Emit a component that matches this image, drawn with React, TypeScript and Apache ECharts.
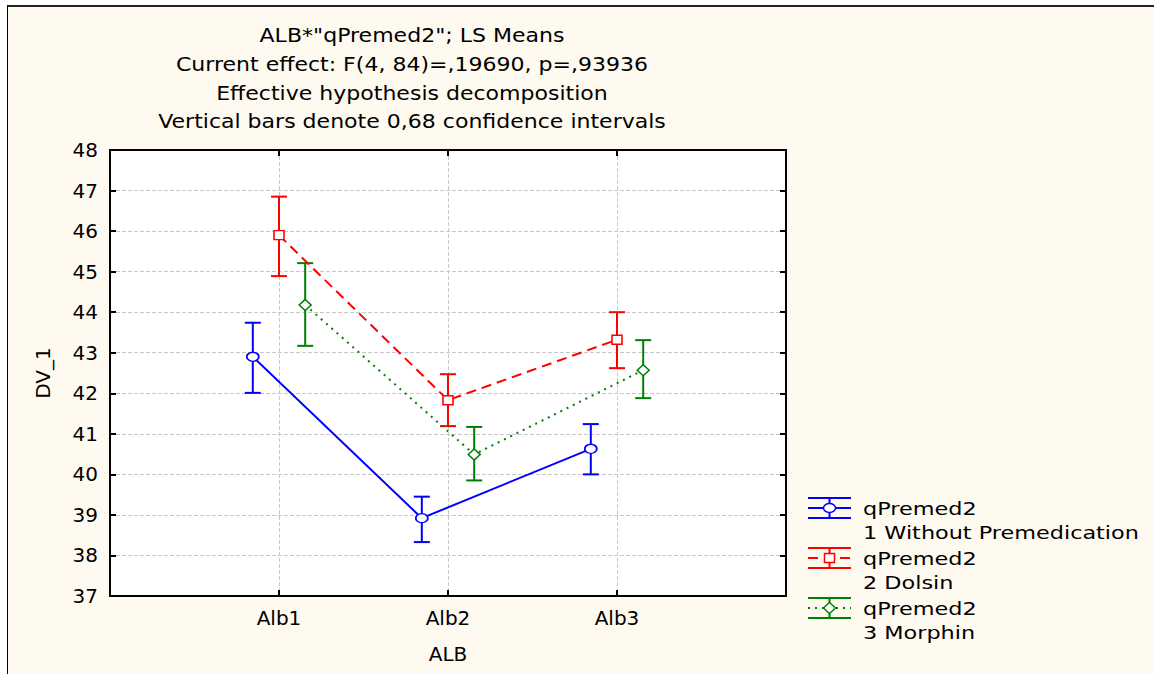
import React, { useEffect, useRef } from 'react';
import * as echarts from 'echarts';

// ---- data ----
const categories = ['Alb1', 'Alb2', 'Alb3'];
const factorName = 'qPremed2';
const groupNames = ['1 Without Premedication', '2 Dolsin', '3 Morphin'];
const titleLines = [
  'ALB*"qPremed2"; LS Means',
  'Current effect: F(4, 84)=,19690, p=,93936',
  'Effective hypothesis decomposition',
  'Vertical bars denote 0,68 confidence intervals',
];
const xAxisName = 'ALB';
const yAxisName = 'DV_1';
const yMin = 37;
const yMax = 48;
const yStep = 1;

const withoutMeans = [42.9, 38.92, 40.63];
const withoutLow = [42.01, 38.33, 40.0];
const withoutHigh = [43.74, 39.45, 41.24];

const dolsinMeans = [45.9, 41.83, 43.32];
const dolsinLow = [44.89, 41.19, 42.62];
const dolsinHigh = [46.85, 42.47, 44.0];

const morphinMeans = [44.18, 40.49, 42.57];
const morphinLow = [43.17, 39.85, 41.88];
const morphinHigh = [45.21, 41.17, 43.31];

// dodge offsets (in category units) for each group
const groupOffsets = [-0.155, 0, 0.155];

// ---- styles ----
const FONT = '"DejaVu Sans", "Liberation Sans", Arial, sans-serif';
const groupStyles = [
  { color: '#0000ff', symbol: 'circle', size: [12, 9], dash: 'solid' as any },
  { color: '#ff0000', symbol: 'rect', size: [10, 9], dash: [10, 6] as any },
  { color: '#008000', symbol: 'diamond', size: [12, 11], dash: [2, 5] as any },
];

function measure(text: string, font: string): number {
  const ctx = document.createElement('canvas').getContext('2d');
  if (!ctx) return text.length * 10;
  ctx.font = font;
  return ctx.measureText(text).width;
}

export default function App() {
  const ref = useRef<HTMLDivElement>(null);

  useEffect(() => {
    if (!ref.current) return;
    const chart = echarts.init(ref.current, undefined, { renderer: 'svg' });

    const groups = [
      { means: withoutMeans, low: withoutLow, high: withoutHigh },
      { means: dolsinMeans, low: dolsinLow, high: dolsinHigh },
      { means: morphinMeans, low: morphinLow, high: morphinHigh },
    ];

    const series: any[] = [];
    groups.forEach((g, gi) => {
      const st = groupStyles[gi];
      const off = groupOffsets[gi];
      series.push({
        type: 'custom',
        name: groupNames[gi] + ' CI',
        xAxisIndex: 0,
        yAxisIndex: 0,
        z: 2,
        encode: { x: 0, y: [1, 2] },
        data: g.means.map((_, i) => [i + 1 + off, g.low[i], g.high[i]]),
        renderItem: (params: any, api: any) => {
          const x = api.value(0);
          const lo = api.value(1);
          const hi = api.value(2);
          const top = api.coord([x, hi]);
          const bot = api.coord([x, lo]);
          const hw = 8;
          const s = { stroke: st.color, lineWidth: 2 };
          return {
            type: 'group',
            children: [
              { type: 'line', shape: { x1: top[0], y1: top[1], x2: bot[0], y2: bot[1] }, style: s },
              { type: 'line', shape: { x1: top[0] - hw, y1: top[1], x2: top[0] + hw, y2: top[1] }, style: s },
              { type: 'line', shape: { x1: bot[0] - hw, y1: bot[1], x2: bot[0] + hw, y2: bot[1] }, style: s },
            ],
          };
        },
      });
      series.push({
        type: 'line',
        name: groupNames[gi],
        xAxisIndex: 0,
        yAxisIndex: 0,
        z: 3,
        data: g.means.map((m, i) => [i + 1 + off, m]),
        symbol: st.symbol,
        symbolSize: st.size,
        showAllSymbol: true,
        itemStyle: { color: '#ffffff', borderColor: st.color, borderWidth: 1.5 },
        lineStyle: { color: st.color, width: 2, type: st.dash },
      });
    });

    // title graphics
    const titleFont = `20px ${FONT}`;
    const titleScale = 508 / measure(titleLines[3], titleFont);
    const titleYs = [35, 64, 93, 121];
    const graphics: any[] = titleLines.map((t, i) => ({
      type: 'text',
      x: 412,
      y: titleYs[i],
      scaleX: titleScale,
      style: {
        text: t,
        fontSize: 20,
        fontFamily: FONT,
        fill: '#000',
        align: 'center',
        verticalAlign: 'middle',
        textAlign: 'center',
        textVerticalAlign: 'middle',
      },
    }));

    // legend graphics
    const legFont = `18px ${FONT}`;
    const legScale = 276 / measure(groupNames[0], legFont);
    groupStyles.forEach((st, gi) => {
      const cy = 508 + gi * 50;
      const x0 = 808;
      const x1 = 851;
      const cx = 829.5;
      const ls = { stroke: st.color, lineWidth: 2 };
      graphics.push({ type: 'line', shape: { x1: x0, y1: cy - 10, x2: x1, y2: cy - 10 }, style: ls });
      graphics.push({ type: 'line', shape: { x1: x0, y1: cy + 10, x2: x1, y2: cy + 10 }, style: ls });
      graphics.push({ type: 'line', shape: { x1: cx, y1: cy - 10, x2: cx, y2: cy + 10 }, style: ls });
      graphics.push({
        type: 'line',
        shape: { x1: x0, y1: cy, x2: x1, y2: cy },
        style: { stroke: st.color, lineWidth: 2, lineDash: st.dash === 'solid' ? null : st.dash },
      });
      const ms = { fill: '#fff', stroke: st.color, lineWidth: 1.5 };
      if (st.symbol === 'circle') {
        graphics.push({ type: 'ellipse', shape: { cx, cy, rx: st.size[0] / 2, ry: st.size[1] / 2 }, style: ms });
      } else if (st.symbol === 'rect') {
        graphics.push({
          type: 'rect',
          shape: { x: cx - st.size[0] / 2, y: cy - st.size[1] / 2, width: st.size[0], height: st.size[1] },
          style: ms,
        });
      } else {
        const w = st.size[0] / 2;
        const h = st.size[1] / 2;
        graphics.push({
          type: 'polygon',
          shape: { points: [[cx, cy - h], [cx + w, cy], [cx, cy + h], [cx - w, cy]] },
          style: ms,
        });
      }
      const textStyle = {
        fontSize: 18,
        fontFamily: FONT,
        fill: '#000',
        align: 'left',
        verticalAlign: 'middle',
        textAlign: 'left',
        textVerticalAlign: 'middle',
      };
      graphics.push({ type: 'text', x: 863, y: cy + 1, scaleX: legScale, style: { ...textStyle, text: factorName } });
      graphics.push({ type: 'text', x: 863, y: cy + 25, scaleX: legScale, style: { ...textStyle, text: groupNames[gi] } });
    });

    const axisLine = { show: true, onZero: false, lineStyle: { color: '#000', width: 2 } };
    const axisTick = { show: true, inside: true, length: 6, lineStyle: { color: '#000', width: 2 } };
    const split = { show: true, lineStyle: { type: 'dashed', color: '#c8c8c8', width: 1 } };
    const labelStyle = { fontFamily: FONT, fontSize: 20, color: '#000' };

    chart.setOption({
      animation: false,
      grid: { show: true, left: 110, top: 150, width: 676, height: 446, backgroundColor: '#ffffff', borderWidth: 0 },
      xAxis: [
        {
          type: 'value',
          min: 0,
          max: categories.length + 1,
          interval: 1,
          position: 'bottom',
          axisLine,
          axisTick,
          splitLine: split,
          axisLabel: {
            ...labelStyle,
            margin: 12,
            formatter: (v: number) => categories[v - 1] ?? '',
          },
          name: xAxisName,
          nameLocation: 'middle',
          nameGap: 48,
          nameTextStyle: labelStyle,
        },
        {
          type: 'value',
          min: 0,
          max: categories.length + 1,
          interval: 1,
          position: 'top',
          axisLine,
          axisTick,
          splitLine: { show: false },
          axisLabel: { show: false },
        },
      ],
      yAxis: [
        {
          type: 'value',
          min: yMin,
          max: yMax,
          interval: yStep,
          position: 'left',
          axisLine,
          axisTick,
          splitLine: split,
          axisLabel: { ...labelStyle, margin: 12 },
          name: yAxisName,
          nameLocation: 'middle',
          nameGap: 57,
          nameRotate: 90,
          nameTextStyle: labelStyle,
        },
        {
          type: 'value',
          min: yMin,
          max: yMax,
          interval: yStep,
          position: 'right',
          axisLine,
          axisTick,
          splitLine: { show: false },
          axisLabel: { show: false },
        },
      ],
      graphic: { elements: graphics },
      series,
    });

    return () => {
      chart.dispose();
    };
  }, []);

  return (
    <div style={{ position: 'absolute', left: 0, top: 0, width: 1154, height: 674, background: '#ffffff' }}>
      <div
        style={{
          position: 'absolute',
          left: 7,
          top: 5,
          right: 0,
          bottom: 0,
          background: '#fffaf0',
          borderTop: '2px solid #222',
          borderLeft: '1px solid #000',
        }}
      />
      <div ref={ref} style={{ position: 'absolute', left: 0, top: 0, width: 1154, height: 674 }} />
    </div>
  );
}
